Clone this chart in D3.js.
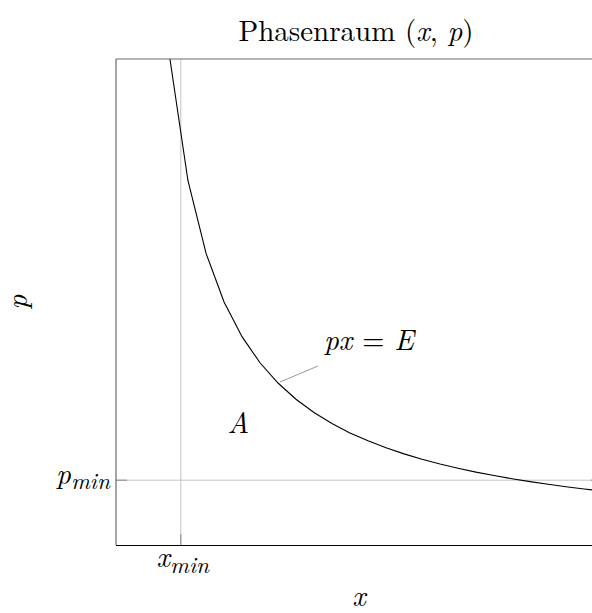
<!DOCTYPE html>
<html>
<head>
<meta charset="utf-8">
<script src="https://cdn.jsdelivr.net/npm/d3@7"></script>
</head>
<body style="margin:0; background:#fff">
<script>
// Hyperbola p = E / x with E = 1, sampled on [1/3, 3]
const xs = [0.333, 0.444, 0.556, 0.667, 0.778, 0.889, 1.0, 1.111, 1.222, 1.333,
            1.444, 1.556, 1.667, 1.778, 1.889, 2.0, 2.111, 2.222, 2.333, 2.444,
            2.556, 2.667, 2.778, 2.889, 3.0];
const ps = [3.0, 2.25, 1.8, 1.5, 1.286, 1.125, 1.0, 0.9, 0.818, 0.75,
            0.692, 0.643, 0.6, 0.5625, 0.529, 0.5, 0.474, 0.45, 0.429, 0.409,
            0.391, 0.375, 0.36, 0.346, 0.333];

// Marked minimum values and the axis range
const xMin = 0.4;
const pMin = 0.4;
const xDomain = [0, 3];
const pDomain = [0, 3];

// Point on the curve where the label is pinned, and the area label position
const pinPoint = [1.0, 1.0];
const areaLabel = [0.75, 0.75];

const W = 592, H = 613;
const plotLeft = 116, plotTop = 59, plotSize = 486;
const serif = '"Latin Modern Roman", "Liberation Serif", serif';
const fs = 29;
const subFs = fs * 0.8;

const svg = d3.select("body").append("svg")
  .attr("width", W).attr("height", H)
  .style("display", "block");

const x = d3.scaleLinear().domain(xDomain).range([plotLeft, plotLeft + plotSize]);
const y = d3.scaleLinear().domain(pDomain).range([plotTop + plotSize, plotTop]);

svg.append("clipPath").attr("id", "plot-clip")
  .append("rect")
  .attr("x", plotLeft).attr("y", plotTop)
  .attr("width", plotSize).attr("height", plotSize);

// Guide lines at x_min and p_min
svg.append("line")
  .attr("x1", x(xMin)).attr("x2", x(xMin))
  .attr("y1", y(pDomain[0])).attr("y2", y(pDomain[1]))
  .attr("stroke", "#c4c4c4").attr("stroke-width", 1);
svg.append("line")
  .attr("x1", x(xDomain[0])).attr("x2", x(xDomain[1]))
  .attr("y1", y(pMin)).attr("y2", y(pMin))
  .attr("stroke", "#c4c4c4").attr("stroke-width", 1);

// Tick marks for the two labelled values
svg.append("line")
  .attr("x1", x(xMin)).attr("x2", x(xMin))
  .attr("y1", y(0)).attr("y2", y(0) - 11)
  .attr("stroke", "#888").attr("stroke-width", 1);
svg.append("line")
  .attr("x1", x(0)).attr("x2", x(0) + 11)
  .attr("y1", y(pMin)).attr("y2", y(pMin))
  .attr("stroke", "#888").attr("stroke-width", 1);
svg.append("line")
  .attr("x1", x(3)).attr("x2", x(3) - 11)
  .attr("y1", y(pMin)).attr("y2", y(pMin))
  .attr("stroke", "#888").attr("stroke-width", 1);

// The curve px = E
const line = d3.line().x((d, i) => x(xs[i])).y((d, i) => y(ps[i]));
svg.append("path")
  .datum(xs)
  .attr("clip-path", "url(#plot-clip)")
  .attr("d", line)
  .attr("fill", "none")
  .attr("stroke", "#000")
  .attr("stroke-width", 1.1);

// Frame
svg.append("line")
  .attr("x1", x(0)).attr("x2", x(3)).attr("y1", y(3)).attr("y2", y(3))
  .attr("stroke", "#6a6a6a").attr("stroke-width", 1.2);
svg.append("line")
  .attr("x1", x(0)).attr("x2", x(0)).attr("y1", y(0)).attr("y2", y(3))
  .attr("stroke", "#6a6a6a").attr("stroke-width", 1.2);
svg.append("line")
  .attr("x1", x(3)).attr("x2", x(3)).attr("y1", y(0)).attr("y2", y(3))
  .attr("stroke", "#6a6a6a").attr("stroke-width", 1.2);
svg.append("line")
  .attr("x1", x(0)).attr("x2", x(3)).attr("y1", y(0) + 0.5).attr("y2", y(0) + 0.5)
  .attr("stroke", "#000").attr("stroke-width", 1.2);

// Pin from the curve to its label
svg.append("line")
  .attr("x1", x(pinPoint[0]) + 2).attr("y1", y(pinPoint[1]) - 1)
  .attr("x2", x(pinPoint[0]) + 40).attr("y2", y(pinPoint[1]) - 17)
  .attr("stroke", "#999").attr("stroke-width", 1);

function addText(sel) {
  return sel.append("text")
    .style("font-family", serif)
    .style("font-size", fs + "px")
    .attr("fill", "#000");
}
function italic(t, str) {
  return t.append("tspan").style("font-style", "italic").text(str);
}

// Curve label
const lbl = addText(svg)
  .attr("x", x(pinPoint[0]) + 46).attr("y", y(pinPoint[1]) - 33);
italic(lbl, "px");
lbl.append("tspan").text(" = ");
italic(lbl, "E");

// Area label
addText(svg)
  .style("font-style", "italic")
  .attr("x", x(areaLabel[0]) - 10).attr("y", y(areaLabel[1]) + 9)
  .text("A");

// x_min label
const xl = addText(svg)
  .attr("x", x(xMin) + 2).attr("y", y(0) + 22)
  .attr("text-anchor", "middle");
italic(xl, "x");
italic(xl, "min").style("font-size", subFs + "px").attr("dy", 6);

// p_min label
const pl = addText(svg)
  .attr("x", x(0) - 6).attr("y", y(pMin) + 4)
  .attr("text-anchor", "end");
italic(pl, "p");
italic(pl, "min").style("font-size", subFs + "px").attr("dy", 5);

// Axis labels
addText(svg)
  .style("font-style", "italic")
  .attr("x", (x(0) + x(3)) / 2).attr("y", 606)
  .attr("text-anchor", "middle")
  .text("x");

addText(svg)
  .style("font-style", "italic")
  .attr("transform", `translate(27,${(y(0) + y(3)) / 2}) rotate(-90)`)
  .attr("text-anchor", "middle")
  .text("p");

// Title
const title = addText(svg)
  .attr("x", (x(0) + x(3)) / 2 - 3).attr("y", 41)
  .attr("text-anchor", "middle");
title.append("tspan").text("Phasenraum (");
italic(title, "x");
title.append("tspan").text(", ");
italic(title, "p");
title.append("tspan").text(")");
</script>
</body>
</html>
